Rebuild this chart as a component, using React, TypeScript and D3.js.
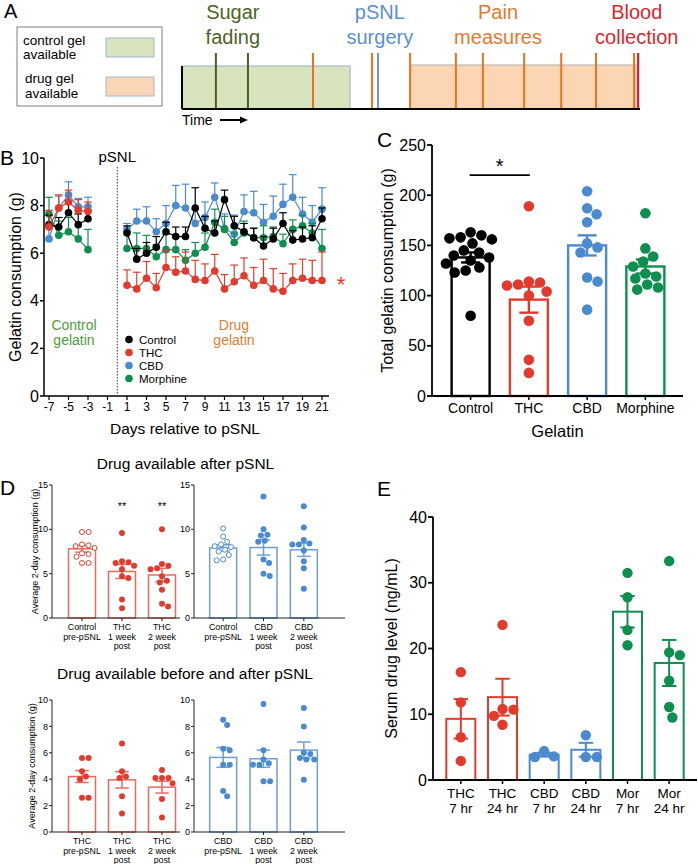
import React from 'react';
import * as d3 from 'd3';

const FONT = "'Liberation Sans', Arial, Helvetica, sans-serif";

const RED = '#e23b2e';
const BLUE = '#4a8bcf';
const GREEN = '#0f8f4f';
const BLACK = '#000';
const RED_LIGHT = '#e86a5c';
const BLUE_LIGHT = '#6b9fd6';

// ---- A: timeline (arbitrary time units 0-100) ----
const CONTROL_GEL = [0, 36.7];
const DRUG_GEL = [49.8, 99.1];
const SUGAR_FADING = [7.4, 14.4];
const PSNL_SURGERY = [42.8];
const PAIN_MEASURES = [28.6, 41.5, 49.8, 59.8, 65.7, 74.7, 82.8, 90.4, 98.7];
const BLOOD_COLLECTION = [99.6];
const A_LABELS = [
  { lines: ['Sugar', 'fading'], t: 11.1, color: '#4f6228' },
  { lines: ['pSNL', 'surgery'], t: 43.2, color: '#5b8fd3' },
  { lines: ['Pain', 'measures'], t: 69, color: '#e8772e' },
  { lines: ['Blood', 'collection'], t: 99.3, color: '#d8282f' },
];

// ---- B: daily gelatin consumption ----
const B_DAYS = [-7, -6, -5, -4, -3, 1, 2, 3, 4, 5, 6, 7, 8, 9, 10, 11, 12, 13, 14, 15, 16, 17, 18, 19, 20, 21];
const B_CONTROL = [7.2, 7.1, 7.7, 7.2, 7.45, 6.85, 5.75, 6.0, 6.25, 6.9, 6.7, 6.7, 7.9, 7.05, 6.85, 8.25, 7.15, 6.9, 6.65, 6.3, 6.6, 7.25, 6.55, 6.6, 6.65, 7.45];
const B_CONTROL_SEM = [0.4, 0.4, 0.5, 0.45, 0.35, 0.3, 0.45, 0.45, 0.45, 0.4, 0.4, 0.4, 0.85, 0.5, 0.5, 0.4, 0.4, 0.35, 0.4, 0.4, 0.45, 0.45, 0.4, 0.5, 0.5, 0.45];
const B_THC = [7.1, 7.9, 8.15, 7.8, 7.75, 4.65, 4.5, 4.95, 4.55, 5.4, 5.2, 5.25, 4.9, 4.85, 5.25, 4.5, 4.8, 5.05, 4.65, 4.85, 4.5, 4.4, 4.85, 4.95, 4.85, 4.85];
const B_THC_SEM = [0.7, 0.55, 0.5, 0.45, 0.4, 0.65, 0.7, 0.7, 0.6, 0.7, 0.65, 0.8, 0.8, 0.7, 0.7, 0.6, 0.7, 0.75, 0.75, 0.9, 0.85, 0.75, 0.7, 0.8, 0.85, 1.2];
const B_CBD = [6.6, 7.9, 8.45, 7.95, 7.95, 7.0, 7.35, 7.35, 6.9, 7.25, 8.0, 7.9, 7.25, 7.5, 8.35, 7.05, 6.8, 7.75, 7.7, 7.3, 7.55, 8.05, 8.35, 7.65, 7.3, 7.85];
const B_CBD_SEM = [0.5, 0.5, 0.55, 0.35, 0.4, 0.25, 0.5, 0.6, 0.55, 0.75, 0.85, 1.0, 0.6, 0.65, 0.6, 0.6, 0.8, 0.7, 0.9, 0.75, 0.85, 0.85, 0.95, 0.7, 0.7, 0.9];
const B_MORPHINE = [7.65, 6.75, 6.9, 6.6, 6.15, 6.2, 6.2, 6.2, 5.85, 6.15, 6.15, 5.7, 6.0, 6.25, 7.3, 7.0, 6.45, 6.85, 6.65, 6.65, 6.7, 6.4, 7.0, 7.15, 6.85, 6.2];
const B_MORPHINE_SEM = [0.7, 0.6, 0.6, 0.6, 0.85, 0.7, 0.65, 0.55, 0.5, 0.65, 0.6, 0.45, 0.45, 0.6, 0.55, 0.55, 0.4, 0.5, 0.4, 0.5, 0.4, 0.4, 0.4, 0.45, 0.4, 0.8];
const B_YTICKS = [0, 2, 4, 6, 8, 10];
const B_XTICKS = [-7, -5, -3, -1, 1, 3, 5, 7, 9, 11, 13, 15, 17, 19, 21];
const B_LEGEND = ['Control', 'THC', 'CBD', 'Morphine'];

// ---- C: total gelatin consumption ----
const C_GROUPS = ['Control', 'THC', 'CBD', 'Morphine'];
const C_MEANS = [138, 96, 150, 129];
const C_SEMS = [5, 13, 10, 7];
const C_CONTROL_PTS = [163, 160, 158, 157, 156, 152, 145, 143, 140, 138, 135, 132, 128, 125, 123, 80];
const C_THC_PTS = [189, 114, 113, 111, 110, 104, 100, 75, 36, 23];
const C_CBD_PTS = [204, 187, 181, 173, 152, 148, 143, 118, 114, 86];
const C_MORPHINE_PTS = [182, 147, 139, 134, 129, 122, 119, 117, 111, 108, 106];
const C_YTICKS = [0, 50, 100, 150, 200, 250];

// ---- D: 2-day averages ----
const D_AFTER_THC_LABELS = [['Control', 'pre-pSNL'], ['THC', '1 week', 'post'], ['THC', '2 week', 'post']];
const D_AFTER_THC_MEANS = [7.8, 5.25, 4.85];
const D_AFTER_THC_SEMS = [0.38, 0.8, 0.75];
const D_AFTER_THC_PTS = [
  [9.7, 9.7, 8.3, 8.2, 8.1, 7.9, 7.3, 7.2, 6.9, 6.2, 6.2],
  [9.6, 6.4, 6.3, 6.2, 5.9, 5.5, 4.7, 4.5, 2.1, 1.1],
  [10.0, 6.1, 5.9, 5.6, 5.5, 4.7, 4.2, 4.0, 3.2, 1.6, 1.3],
];
const D_AFTER_CBD_LABELS = [['Control', 'pre-pSNL'], ['CBD', '1 week', 'post'], ['CBD', '2 week', 'post']];
const D_AFTER_CBD_MEANS = [7.9, 7.95, 7.7];
const D_AFTER_CBD_SEMS = [0.35, 0.85, 0.75];
const D_AFTER_CBD_PTS = [
  [10.1, 9.2, 8.6, 8.3, 8.1, 8.0, 7.7, 7.5, 7.1, 6.6, 6.5],
  [13.7, 10.0, 9.4, 9.3, 8.7, 8.6, 6.6, 6.2, 5.0, 4.75],
  [12.6, 10.2, 8.8, 8.4, 8.3, 8.3, 7.6, 6.4, 5.6, 3.3],
];
const D_BOTH_THC_LABELS = [['THC', 'pre-pSNL'], ['THC', '1 week', 'post'], ['THC', '2 week', 'post']];
const D_BOTH_THC_MEANS = [4.2, 3.95, 3.4];
const D_BOTH_THC_SEMS = [0.45, 0.62, 0.45];
const D_BOTH_THC_PTS = [
  [5.6, 5.6, 4.6, 4.2, 4.0, 2.6, 2.6],
  [6.7, 4.6, 4.2, 4.1, 2.7, 1.4],
  [4.7, 4.1, 4.1, 4.1, 3.7, 2.5, 1.1],
];
const D_BOTH_CBD_LABELS = [['CBD', 'pre-pSNL'], ['CBD', '1 week', 'post'], ['CBD', '2 week', 'post']];
const D_BOTH_CBD_MEANS = [5.65, 5.55, 6.2];
const D_BOTH_CBD_SEMS = [0.75, 0.65, 0.62];
const D_BOTH_CBD_PTS = [
  [8.5, 8.1, 6.3, 6.2, 5.1, 5.1, 3.1, 2.7],
  [9.7, 6.2, 5.5, 5.2, 5.1, 5.1, 3.85, 3.85],
  [9.4, 8.0, 6.0, 5.9, 5.6, 5.5, 5.5, 3.95],
];
const D_TOP_TICKS = [0, 5, 10, 15];
const D_BOTTOM_TICKS = [0, 2, 4, 6, 8, 10];

// ---- E: serum drug level ----
const E_LABELS = [['THC', '7 hr'], ['THC', '24 hr'], ['CBD', '7 hr'], ['CBD', '24 hr'], ['Mor', '7 hr'], ['Mor', '24 hr']];
const E_MEANS = [9.3, 12.6, 3.85, 4.6, 25.6, 17.8];
const E_SEMS = [3.0, 2.8, 0.3, 1.05, 2.4, 3.5];
const E_PTS = [
  [16.4, 11.8, 6.5, 2.9],
  [23.6, 10.8, 10.7, 9.75, 8.4],
  [4.4, 3.6, 3.5],
  [6.8, 3.5, 3.5],
  [31.5, 27.8, 22.8, 20.5],
  [33.3, 19.4, 19.0, 15.1, 11.1, 9.5],
];
const E_COLORS = [RED, RED, BLUE, BLUE, GREEN, GREEN];
const E_YTICKS = [0, 10, 20, 30, 40];

// simple beeswarm: horizontal offsets so dots don't overlap
function swarm(values: number[], y: (v: number) => number, r: number) {
  const d = 2 * r + 0.6;
  const placed: { x: number; y: number }[] = [];
  const out: { x: number; y: number }[] = new Array(values.length);
  const order = values.map((_, i) => i).sort((a, b) => values[b] - values[a]);
  for (const i of order) {
    const py = y(values[i]);
    const near = placed.filter(p => Math.abs(p.y - py) < d);
    const cands = [0];
    near.forEach(p => {
      const dx = Math.sqrt(d * d - (p.y - py) ** 2);
      cands.push(p.x + dx, p.x - dx);
    });
    cands.sort((a, b) => Math.abs(a) - Math.abs(b));
    const px = cands.find(c => near.every(p => (p.x - c) ** 2 + (p.y - py) ** 2 >= d * d - 0.01)) ?? 0;
    placed.push({ x: px, y: py });
    out[i] = { x: px, y: py };
  }
  return out;
}

const Lines = ({ x, y, lines, fs, lh, anchor = 'middle', fill = '#000' }: any) => (
  <text x={x} y={y} fontSize={fs} textAnchor={anchor} fill={fill}>
    {lines.map((l: string, i: number) => (
      <tspan key={i} x={x} dy={i === 0 ? 0 : lh}>{l}</tspan>
    ))}
  </text>
);

const YAxis = ({ x, y, ticks, tick, fs, gap, sw, color = '#000' }: any) => {
  const [d0, d1] = y.domain();
  return (
    <g>
      <line x1={x} x2={x} y1={y(d0)} y2={y(d1)} stroke={color} strokeWidth={sw} />
      {ticks.map((t: number) => (
        <g key={t}>
          <line x1={x - tick} x2={x} y1={y(t)} y2={y(t)} stroke={color} strokeWidth={sw} />
          <text x={x - tick - gap} y={y(t)} dy="0.35em" textAnchor="end" fontSize={fs}>{t}</text>
        </g>
      ))}
    </g>
  );
};

const BarGroup = ({ cx, mean, sem, pts, y, barW, r, sw, stroke, dot, open }: any) => {
  const base = y(0);
  const top = y(mean);
  const pos = swarm(pts, y, r);
  const cap = barW * 0.5;
  return (
    <g>
      <rect x={cx - barW / 2} y={top} width={barW} height={base - top} fill="none" stroke={stroke} strokeWidth={sw} />
      <line x1={cx} x2={cx} y1={y(mean - sem)} y2={y(mean + sem)} stroke={stroke} strokeWidth={sw} />
      <line x1={cx - cap / 2} x2={cx + cap / 2} y1={y(mean + sem)} y2={y(mean + sem)} stroke={stroke} strokeWidth={sw} />
      <line x1={cx - cap / 2} x2={cx + cap / 2} y1={y(mean - sem)} y2={y(mean - sem)} stroke={stroke} strokeWidth={sw} />
      {pos.map((p, i) => (
        <circle key={i} cx={cx + p.x} cy={p.y} r={open ? r - 0.5 : r}
          fill={open ? '#fff' : dot} stroke={open ? dot : 'none'} strokeWidth={1} />
      ))}
    </g>
  );
};

const PanelA = () => {
  const x = d3.scaleLinear().domain([0, 100]).range([182, 640]);
  const yTop = 53, yBase = 109;
  const ev = (ts: number[], color: string, w = 2) =>
    ts.map((t, i) => <line key={color + i} x1={x(t)} x2={x(t)} y1={yTop} y2={yBase} stroke={color} strokeWidth={w} />);
  return (
    <g>
      <text x={4} y={18} fontSize={20}>A</text>
      <rect x={17} y={27} width={145} height={79} fill="#fff" stroke="#7f7f7f" strokeWidth={1} />
      <Lines x={23} y={45} lines={['control gel', 'available']} fs={13.5} lh={13.5} anchor="start" />
      <Lines x={25} y={83} lines={['drug gel', 'available']} fs={13.5} lh={14.5} anchor="start" />
      <rect x={106} y={38} width={48} height={19} fill="#d7e4bd" stroke="#9fb6d6" strokeWidth={1} />
      <rect x={106} y={77} width={48} height={19} fill="#fcd5b5" stroke="#9fb6d6" strokeWidth={1} />

      <rect x={x(CONTROL_GEL[0])} y={66} width={x(CONTROL_GEL[1]) - x(CONTROL_GEL[0])} height={yBase - 66}
        fill="#d7e4bd" stroke="#a8b9d0" strokeWidth={1.2} />
      <rect x={x(DRUG_GEL[0])} y={65} width={x(DRUG_GEL[1]) - x(DRUG_GEL[0])} height={yBase - 65}
        fill="#fcd5b5" stroke="#b8b8b8" strokeWidth={1.2} />
      {ev(SUGAR_FADING, '#4a5f22')}
      {ev(PAIN_MEASURES, '#e8741e')}
      {ev(PSNL_SURGERY, '#6b9bd6')}
      {ev(BLOOD_COLLECTION, '#d41f26', 2.2)}
      <line x1={x(0)} x2={x(100)} y1={yBase} y2={yBase} stroke="#000" strokeWidth={2} />
      <line x1={x(0)} x2={x(0)} y1={66} y2={yBase} stroke="#000" strokeWidth={2} />
      {A_LABELS.map(l => (
        <Lines key={l.lines[0]} x={x(l.t)} y={19} lines={l.lines} fs={20} lh={25} fill={l.color} />
      ))}
      <text x={182} y={125} fontSize={14}>Time</text>
      <line x1={220} x2={241} y1={120} y2={120} stroke="#000" strokeWidth={2} />
      <path d="M240,116.5 L248,120 L240,123.5 Z" fill="#000" />
    </g>
  );
};

const PanelB = () => {
  const x = d3.scaleLinear().domain([-7, 21]).range([49, 322]);
  const y = d3.scaleLinear().domain([0, 10]).range([396, 158]);
  const series = [
    { key: 'CBD', v: B_CBD, e: B_CBD_SEM, c: BLUE },
    { key: 'Morphine', v: B_MORPHINE, e: B_MORPHINE_SEM, c: GREEN },
    { key: 'Control', v: B_CONTROL, e: B_CONTROL_SEM, c: BLACK },
    { key: 'THC', v: B_THC, e: B_THC_SEM, c: RED },
  ];
  const colorOf: Record<string, string> = { Control: BLACK, THC: RED, CBD: BLUE, Morphine: GREEN };
  const line = d3.line<[number, number]>().x(d => x(d[0])).y(d => y(d[1]));
  return (
    <g>
      <text x={0} y={165} fontSize={21}>B</text>
      <YAxis x={44} y={y} ticks={B_YTICKS} tick={4} fs={16} gap={1} sw={1.5} />
      <line x1={44} x2={329} y1={396} y2={396} stroke="#000" strokeWidth={1.5} />
      {B_XTICKS.map(t => (
        <g key={t}>
          <line x1={x(t)} x2={x(t)} y1={396} y2={400} stroke="#000" strokeWidth={1.2} />
          <text x={x(t)} y={411} fontSize={12} textAnchor="middle">{t}</text>
        </g>
      ))}
      <line x1={x(0)} x2={x(0)} y1={167} y2={396} stroke="#333" strokeWidth={1} strokeDasharray="1.5,1.5" />
      <text x={x(0)} y={162} fontSize={15} textAnchor="middle">pSNL</text>
      <text transform="translate(15,277) rotate(-90)" fontSize={16} textAnchor="middle" dy="0.35em">Gelatin consumption (g)</text>
      <text x={185} y={434} fontSize={15.5} textAnchor="middle">Days relative to pSNL</text>

      {series.map(s => {
        const pts = B_DAYS.map((d, i) => [d, s.v[i]] as [number, number]);
        const pre = pts.filter(p => p[0] < 0);
        const post = pts.filter(p => p[0] > 0);
        return (
          <g key={s.key}>
            {pts.map((p, i) => (
              <g key={i}>
                <line x1={x(p[0])} x2={x(p[0])} y1={y(p[1])} y2={y(p[1] + s.e[i])} stroke={s.c} strokeWidth={1.2} />
                <line x1={x(p[0]) - 3.8} x2={x(p[0]) + 3.8} y1={y(p[1] + s.e[i])} y2={y(p[1] + s.e[i])} stroke={s.c} strokeWidth={1.2} />
              </g>
            ))}
            <path d={line(pre) || ''} fill="none" stroke={s.c} strokeWidth={1.2} />
            <path d={line(post) || ''} fill="none" stroke={s.c} strokeWidth={1.2} />
            {pts.map((p, i) => <circle key={i} cx={x(p[0])} cy={y(p[1])} r={3.8} fill={s.c} />)}
          </g>
        );
      })}

      <Lines x={74} y={330} lines={['Control', 'gelatin']} fs={14} lh={15} fill="#4e9a3a" />
      <Lines x={234} y={330} lines={['Drug', 'gelatin']} fs={14} lh={15} fill="#e07b39" />
      {B_LEGEND.map((k, i) => (
        <g key={k}>
          <circle cx={129} cy={339.5 + i * 13} r={3.8} fill={colorOf[k]} />
          <text x={139} y={339.5 + i * 13} dy="0.35em" fontSize={11.5}>{k}</text>
        </g>
      ))}
      <text x={341} y={292} fontSize={22} fill={RED} textAnchor="middle">*</text>
    </g>
  );
};

const PanelC = () => {
  const x = d3.scalePoint().domain(C_GROUPS).range([441.5, 674.5]).padding(0.5);
  const y = d3.scaleLinear().domain([0, 250]).range([396, 145]);
  const pts = [C_CONTROL_PTS, C_THC_PTS, C_CBD_PTS, C_MORPHINE_PTS];
  const colors = [BLACK, RED, BLUE, GREEN];
  return (
    <g>
      <text x={377} y={147} fontSize={21}>C</text>
      {C_GROUPS.map((g, i) => (
        <BarGroup key={g} cx={x(g)} mean={C_MEANS[i]} sem={C_SEMS[i]} pts={pts[i]} y={y}
          barW={38} r={5.3} sw={2.4} stroke={colors[i]} dot={colors[i]} />
      ))}
      <YAxis x={432} y={y} ticks={C_YTICKS} tick={5} fs={16} gap={1} sw={1.8} />
      <line x1={432} x2={683} y1={396} y2={396} stroke="#000" strokeWidth={1.8} />
      {C_GROUPS.map(g => (
        <g key={g}>
          <line x1={x(g)} x2={x(g)} y1={396} y2={400} stroke="#000" strokeWidth={1.5} />
          <text x={x(g)} y={413} fontSize={14} textAnchor="middle">{g}</text>
        </g>
      ))}
      <text x={557.5} y={437} fontSize={16.5} textAnchor="middle">Gelatin</text>
      <text transform="translate(387,270.5) rotate(-90)" fontSize={16} textAnchor="middle" dy="0.35em">Total gelatin consumption (g)</text>
      <line x1={x('Control')! - 1} x2={x('THC')! + 1} y1={y(220)} y2={y(220)} stroke="#000" strokeWidth={1.8} />
      <text x={(x('Control')! + x('THC')!) / 2} y={y(224) + 2} fontSize={20} textAnchor="middle">*</text>
    </g>
  );
};

const DSub = ({ axisX, axisEnd, range, yScale, ticks, labels, means, sems, pts, barColor, dotColor, stars }: any) => {
  const keys = labels.map((l: string[]) => l.join(' '));
  const x = d3.scalePoint().domain(keys).range(range).padding(0.5);
  const base = yScale(0);
  return (
    <g>
      {keys.map((k: string, i: number) => (
        <BarGroup key={k} cx={x(k)} mean={means[i]} sem={sems[i]} pts={pts[i]} y={yScale}
          barW={27} r={3} sw={1.5} stroke={barColor} dot={dotColor} open={labels[i][0] === 'Control'} />
      ))}
      <YAxis x={axisX} y={yScale} ticks={ticks} tick={3} fs={9} gap={1} sw={1} color="#222" />
      <line x1={axisX} x2={axisEnd} y1={base} y2={base} stroke="#222" strokeWidth={1} />
      {keys.map((k: string, i: number) => (
        <g key={k}>
          <line x1={x(k)} x2={x(k)} y1={base} y2={base + 3} stroke="#222" strokeWidth={1} />
          <Lines x={x(k)} y={base + 12} lines={labels[i]} fs={8.8} lh={9.5} />
          {stars && stars[i] ? <text x={x(k)} y={yScale(12.2)} fontSize={11} textAnchor="middle">{stars[i]}</text> : null}
        </g>
      ))}
    </g>
  );
};

const PanelD = () => {
  const yTop = d3.scaleLinear().domain([0, 15]).range([618, 485]);
  const yBot = d3.scaleLinear().domain([0, 10]).range([832, 700]);
  return (
    <g>
      <text x={0} y={495} fontSize={21}>D</text>
      <text x={185.5} y={469} fontSize={15.5} textAnchor="middle">Drug available after pSNL</text>
      <text x={185} y={679} fontSize={15.5} textAnchor="middle">Drug available before and after pSNL</text>
      <text transform="translate(35,551.5) rotate(-90)" fontSize={9} textAnchor="middle" dy="0.35em">Average 2-day consumption (g)</text>
      <text transform="translate(32,766) rotate(-90)" fontSize={9} textAnchor="middle" dy="0.35em">Average 2-day consumption (g)</text>
      <DSub axisX={52} axisEnd={180} range={[62, 182]} yScale={yTop} ticks={D_TOP_TICKS} labels={D_AFTER_THC_LABELS}
        means={D_AFTER_THC_MEANS} sems={D_AFTER_THC_SEMS} pts={D_AFTER_THC_PTS} barColor={RED_LIGHT} dotColor={RED}
        stars={['', '**', '**']} />
      <DSub axisX={194} axisEnd={345} range={[203, 324]} yScale={yTop} ticks={D_TOP_TICKS} labels={D_AFTER_CBD_LABELS}
        means={D_AFTER_CBD_MEANS} sems={D_AFTER_CBD_SEMS} pts={D_AFTER_CBD_PTS} barColor={BLUE_LIGHT} dotColor={BLUE} />
      <DSub axisX={52} axisEnd={180} range={[62, 182]} yScale={yBot} ticks={D_BOTTOM_TICKS} labels={D_BOTH_THC_LABELS}
        means={D_BOTH_THC_MEANS} sems={D_BOTH_THC_SEMS} pts={D_BOTH_THC_PTS} barColor={RED_LIGHT} dotColor={RED} />
      <DSub axisX={194} axisEnd={345} range={[203, 324]} yScale={yBot} ticks={D_BOTTOM_TICKS} labels={D_BOTH_CBD_LABELS}
        means={D_BOTH_CBD_MEANS} sems={D_BOTH_CBD_SEMS} pts={D_BOTH_CBD_PTS} barColor={BLUE_LIGHT} dotColor={BLUE} />
    </g>
  );
};

const PanelE = () => {
  const keys = E_LABELS.map(l => l.join(' '));
  const x = d3.scalePoint().domain(keys).range([440, 690]).padding(0.5);
  const y = d3.scaleLinear().domain([0, 40]).range([780, 517]);
  return (
    <g>
      <text x={377} y={496} fontSize={21}>E</text>
      {keys.map((k, i) => (
        <BarGroup key={k} cx={x(k)} mean={E_MEANS[i]} sem={E_SEMS[i]} pts={E_PTS[i]} y={y}
          barW={29} r={5.2} sw={2} stroke={E_COLORS[i]} dot={E_COLORS[i]} />
      ))}
      <YAxis x={433} y={y} ticks={E_YTICKS} tick={5} fs={16} gap={1} sw={1.8} />
      <line x1={433} x2={697} y1={780} y2={780} stroke="#000" strokeWidth={1.8} />
      {keys.map((k, i) => (
        <g key={k}>
          <line x1={x(k)} x2={x(k)} y1={780} y2={784} stroke="#000" strokeWidth={1.5} />
          <Lines x={x(k)} y={798} lines={E_LABELS[i]} fs={13.5} lh={15} />
        </g>
      ))}
      <text transform="translate(391,648.5) rotate(-90)" fontSize={16} textAnchor="middle" dy="0.35em">Serum drug level (ng/mL)</text>
    </g>
  );
};

export default function App() {
  return (
    <svg width={698} height={864} style={{ position: 'absolute', left: 0, top: 0, display: 'block' }} fontFamily={FONT}>
      <rect width={698} height={864} fill="#fff" />
      <PanelA />
      <PanelB />
      <PanelC />
      <PanelD />
      <PanelE />
    </svg>
  );
}
